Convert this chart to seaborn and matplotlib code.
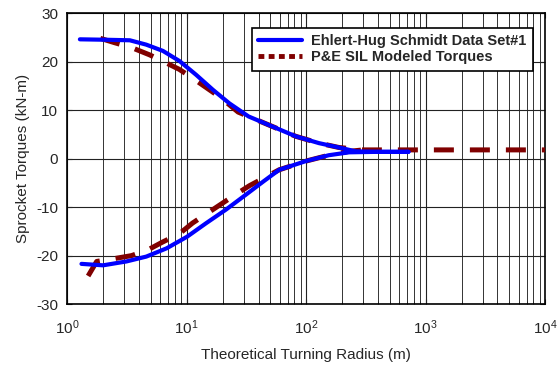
import pandas as pd
import seaborn as sns
import matplotlib.pyplot as plt
from matplotlib.lines import Line2D
from matplotlib.ticker import LogLocator, NullFormatter

# Datos medidos (Ehlert-Hug Schmidt) - rama superior e inferior
medido_radio_sup = [1.28, 2.2, 3.35, 4.6, 6.35, 8.75, 12, 16.6, 22.8, 33, 52.6, 82, 128, 188, 260, 400, 720]
medido_par_sup = [24.6, 24.5, 24.4, 23.5, 22.2, 20.1, 17.3, 14.2, 11.4, 8.7, 6.6, 4.6, 3.2, 2.3, 1.5, 1.4, 1.4]
medido_radio_inf = [1.32, 2.0, 3.14, 4.6, 6.8, 10.1, 14.6, 21.4, 31.5, 44, 59.6, 100, 155, 229, 400, 720]
medido_par_inf = [-21.7, -22.0, -21.2, -20.2, -18.5, -16.1, -13.3, -10.5, -7.4, -4.7, -2.3, -0.5, 0.7, 1.3, 1.4, 1.4]

# Modelo (P&E SIL) - rama superior e inferior
modelo_radio_sup = [1.9, 2.5, 3.46, 4.9, 6.3, 8.7, 11.7, 19.5, 27, 52.6, 82, 128, 188, 300, 1000, 3000, 10000]
modelo_par_sup = [24.8, 23.9, 22.9, 21.4, 20.1, 18.4, 16.3, 12.5, 9.6, 6.6, 4.6, 3.2, 2.3, 1.8, 1.8, 1.8, 1.8]
modelo_radio_inf = [1.5, 1.77, 2.5, 3.46, 4.76, 6.3, 8.7, 11.2, 21.4, 27.7, 33.5, 59.6, 100, 155, 229, 300]
modelo_par_inf = [-24.2, -21.2, -20.6, -20.0, -18.8, -17.2, -15.5, -13.3, -8.7, -6.9, -5.6, -2.3, -0.5, 0.7, 1.5, 1.8]

medido = pd.DataFrame({
    "Radio": medido_radio_sup + medido_radio_inf,
    "Par": medido_par_sup + medido_par_inf,
    "Rama": ["sup"] * len(medido_radio_sup) + ["inf"] * len(medido_radio_inf),
})
modelo = pd.DataFrame({
    "Radio": modelo_radio_sup + modelo_radio_inf,
    "Par": modelo_par_sup + modelo_par_inf,
    "Rama": ["sup"] * len(modelo_radio_sup) + ["inf"] * len(modelo_radio_inf),
})

sns.set_style("ticks")
plt.rcParams["font.family"] = ["Liberation Sans", "DejaVu Sans"]
plt.rcParams["mathtext.fontset"] = "custom"
plt.rcParams["mathtext.rm"] = "Liberation Sans"
plt.rcParams["axes.unicode_minus"] = False

fig = plt.figure(figsize=(5.59, 3.75), dpi=100)
ax = fig.add_axes([0.12, 0.189, 0.855, 0.776])

azul = "#0000ff"
rojo = "#800000"

sns.lineplot(data=modelo, x="Radio", y="Par", units="Rama", estimator=None, sort=False,
             color=rojo, linewidth=3.6, ax=ax, zorder=3)
sns.lineplot(data=medido, x="Radio", y="Par", units="Rama", estimator=None, sort=False,
             color=azul, linewidth=3.0, ax=ax, zorder=4)
for ln in ax.lines[:2]:
    ln.set_dashes((4, 3.2))
    ln.set_solid_capstyle("butt")

ax.set_xscale("log")
ax.set_xlim(1, 10000)
ax.set_ylim(-30, 30)
ax.set_yticks(range(-30, 31, 10))
ax.xaxis.set_major_locator(LogLocator(base=10, numticks=10))
ax.xaxis.set_minor_locator(LogLocator(base=10, subs=range(2, 10), numticks=100))
ax.xaxis.set_minor_formatter(NullFormatter())
ax.grid(True, which="major", color="#222222", linewidth=0.8)
ax.grid(True, which="minor", axis="x", color="#333333", linewidth=0.7)
ax.tick_params(direction="in", top=True, right=True, labelsize=11, which="both")
ax.tick_params(axis="x", pad=10)
ax.tick_params(axis="y", pad=6.5)
for s in ax.spines.values():
    s.set_color("black")
    s.set_linewidth(1.2)

ax.set_xlabel("Theoretical Turning Radius (m)", fontsize=11, labelpad=8)
ax.set_ylabel("Sprocket Torques (kN-m)", fontsize=11)

manejadores = [
    Line2D([], [], color=azul, linewidth=3.0),
    Line2D([], [], color=rojo, linewidth=3.5, dashes=(1.2, 0.9)),
]
leg = ax.legend(manejadores, ["Ehlert-Hug Schmidt Data Set#1", "P&E SIL Modeled Torques"],
                loc="upper right", bbox_to_anchor=(0.983, 0.965),
                prop={"size": 10.5, "weight": "bold"},
                frameon=True, fancybox=False, framealpha=1, edgecolor="black",
                handlelength=3.0, handletextpad=0.6, borderpad=0.45, labelspacing=0.15,
                borderaxespad=0.3)
leg.get_frame().set_linewidth(1.2)

plt.savefig("out.png", dpi=100)
